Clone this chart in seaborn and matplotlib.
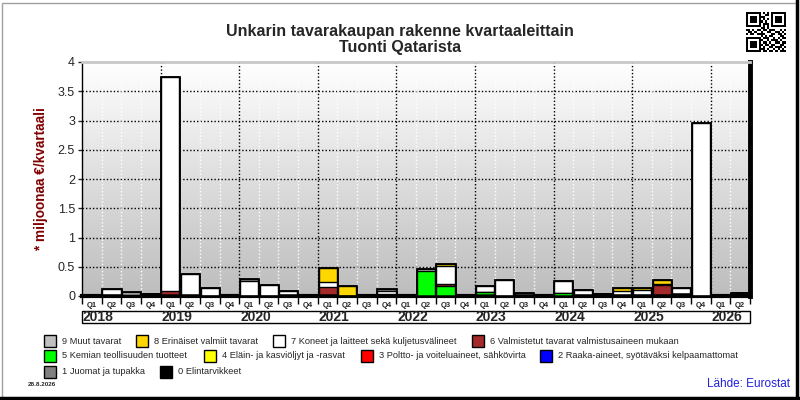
import numpy as np
import pandas as pd
import seaborn as sns
import matplotlib.pyplot as plt
from matplotlib.colors import LinearSegmentedColormap
from matplotlib.patches import Rectangle
from matplotlib.transforms import blended_transform_factory

years = ["2018", "2019", "2020", "2021", "2022", "2023", "2024", "2025", "2026"]
quarters = ["Q1", "Q2", "Q3", "Q4"] * 8 + ["Q1", "Q2"]

# tuonti Qatarista, milj. € / kvartaali, 2018Q1 ... 2026Q2
g0 = [0, 0.01, 0, 0.03, 0.02, 0.01, 0, 0, 0, 0, 0.01, 0.02,
      0.01, 0, 0.02, 0.01, 0.02, 0, 0, 0, 0.01, 0, 0.01, 0,
      0, 0.02, 0.03, 0.01, 0.01, 0.01, 0.04, 0, 0, 0.05]
g1 = [0.0] * 34
g2 = [0.0] * 34
g3 = [0.0] * 34
g4 = [0.0] * 34
g5 = [0, 0, 0, 0, 0, 0, 0, 0, 0, 0, 0, 0,
      0, 0, 0, 0, 0, 0.43, 0.17, 0, 0.06, 0, 0, 0,
      0.05, 0, 0, 0, 0, 0, 0, 0, 0, 0]
g6 = [0, 0, 0, 0, 0.06, 0, 0, 0, 0, 0, 0, 0,
      0.14, 0, 0, 0.03, 0, 0, 0.03, 0, 0, 0, 0, 0,
      0, 0, 0, 0, 0, 0.18, 0, 0, 0, 0]
g7 = [0, 0.11, 0.015, 0, 3.67, 0.37, 0.13, 0, 0.26, 0.18, 0.07, 0,
      0.09, 0, 0, 0.05, 0, 0.04, 0.32, 0, 0.10, 0.28, 0.04, 0,
      0.20, 0.08, 0, 0.08, 0.09, 0.01, 0.09, 2.95, 0, 0]
g8 = [0, 0, 0, 0, 0, 0, 0, 0, 0, 0, 0, 0,
      0.24, 0.17, 0, 0, 0, 0, 0.03, 0, 0, 0, 0, 0,
      0, 0, 0, 0.05, 0.04, 0.07, 0, 0, 0, 0]
g9 = [0, 0, 0.055, 0, 0, 0, 0, 0, 0.03, 0, 0, 0,
      0, 0, 0, 0.03, 0, 0, 0, 0, 0, 0, 0, 0,
      0, 0, 0, 0, 0, 0, 0, 0, 0, 0]

labels = ["0 Elintarvikkeet", "1 Juomat ja tupakka",
          "2 Raaka-aineet, syötäväksi kelpaamattomat",
          "3 Poltto- ja voiteluaineet, sähkövirta",
          "4 Eläin- ja kasviöljyt ja -rasvat", "5 Kemian teollisuuden tuotteet",
          "6 Valmistetut tavarat valmistusaineen mukaan",
          "7 Koneet ja laitteet sekä kuljetusvälineet",
          "8 Erinäiset valmiit tavarat", "9 Muut tavarat"]
colors = ["#000000", "#808080", "#0000FF", "#FF0000", "#FFFF00",
          "#00FF00", "#A52A2A", "#FFFFFF", "#FFD700", "#C0C0C0"]

sns.set_style("white")
plt.rcParams['font.family'] = ['Liberation Sans', 'DejaVu Sans']

n = len(quarters)
df = pd.DataFrame({"idx": np.arange(n)})
vals = np.array([g0, g1, g2, g3, g4, g5, g6, g7, g8, g9])
cum = np.cumsum(vals, axis=0)
for k in range(10):
    df["c%d" % k] = cum[k]

fig = plt.figure(figsize=(8, 4), dpi=100)
ax = fig.add_axes([0.1025, 0.26, 0.835, 0.585])

# kokonaissumma paksummalla reunalla, sitten pinot ylimmästä alkaen
sns.barplot(data=df, x="idx", y="c9", color=colors[9], saturation=1,
            edgecolor="black", linewidth=2, width=0.92, ax=ax, zorder=3)
for k in range(9, -1, -1):
    sns.barplot(data=df, x="idx", y="c%d" % k, color=colors[k], saturation=1,
                edgecolor="black", linewidth=1, width=0.92, ax=ax, zorder=3)

ax.set_xlim(-0.5, n - 0.5)
ax.set_ylim(0, 4)

# taustan liukuväri
grad = LinearSegmentedColormap.from_list("bg", ["#FFFFFF", "#BDBDBD"])
ax.imshow(np.linspace(0, 1, 256).reshape(-1, 1), cmap=grad, aspect="auto",
          extent=[-0.5, n - 0.5, 0, 4], zorder=0)

for yv in np.arange(0.5, 4, 0.5):
    ax.axhline(yv, color="black", linestyle=(0, (1, 1.5)), linewidth=1, zorder=1)
for i in range(1, n):
    if i % 4 == 0:
        ax.axvline(i - 0.5, color="black", linestyle=(0, (1, 1.5)), linewidth=1, zorder=1)
    else:
        ax.axvline(i - 0.5, color="white", linestyle=(0, (1, 1.5)), linewidth=1, zorder=1)

ax.set_xlabel("")
ax.set_ylabel("* miljoonaa €/kvartaali", color="#800000", fontsize=9.8,
              fontweight="bold")
ax.yaxis.set_label_coords(-0.051, 0.5)
ax.set_yticks(np.arange(0, 4.01, 0.5))
ax.set_yticklabels(["0", "0.5", "1", "1.5", "2", "2.5", "3", "3.5", "4"])
ax.tick_params(axis="y", labelsize=9, length=3, width=1, direction="out",
               left=True, pad=2)
ax.set_xticks(np.arange(n))
ax.set_xticklabels(quarters, fontsize=5.5, fontweight="bold")
ax.set_xticks(np.arange(n + 1) - 0.5, minor=True)
ax.tick_params(axis="x", which="major", length=0, pad=4)
ax.tick_params(axis="x", which="minor", length=6, width=1, color="black",
               direction="out", bottom=True)

for side in ["left", "bottom", "right", "top"]:
    ax.spines[side].set_visible(True)
ax.spines["left"].set_color("black")
ax.spines["left"].set_linewidth(1)
ax.spines["bottom"].set_color("black")
ax.spines["bottom"].set_linewidth(3)
ax.spines["right"].set_color("black")
ax.spines["right"].set_linewidth(3.5)
ax.spines["top"].set_color("#C8C8C8")
ax.spines["top"].set_linewidth(2)

# vuosirivi
trans = blended_transform_factory(ax.transData, ax.transAxes)
ax.add_patch(Rectangle((-0.5, -0.115), n, 0.052, transform=trans,
                       facecolor="white", edgecolor="black", linewidth=1,
                       clip_on=False))
for j, yr in enumerate(years):
    ax.text(4 * j - 0.45, -0.09, yr, transform=trans, fontsize=10,
            fontweight="bold", ha="left", va="center")

fig.text(0.5, 0.922, "Unkarin tavarakaupan rakenne kvartaaleittain",
         ha="center", va="center", fontsize=11.5, fontweight="bold")
fig.text(0.5, 0.882, "Tuonti Qatarista", ha="center", va="center",
         fontsize=11.5, fontweight="bold")

# selite
legend_pos = [(9, 44, 341), (8, 136, 341), (7, 273, 341), (6, 472, 341),
              (5, 44, 356), (4, 204, 356), (3, 361, 356), (2, 540, 356),
              (1, 44, 372), (0, 160, 372)]
for k, px, py in legend_pos:
    fig.patches.append(Rectangle((px / 800, 1 - (py + 6) / 400), 12 / 800, 12 / 400,
                                 transform=fig.transFigure, facecolor=colors[k],
                                 edgecolor="black", linewidth=1))
    fig.text((px + 18) / 800, 1 - py / 400, labels[k], fontsize=6.7,
             ha="left", va="center")

fig.text(28 / 800, 1 - 385 / 400, "28.8.2026", fontsize=4.5, fontweight="bold",
         ha="left", va="center")
fig.text(790 / 800, 1 - 384 / 400, "Lähde: Eurostat", fontsize=8.5,
         color="#2020E0", ha="right", va="center")

# QR-merkki
qr = ["1111111010101111111",
      "1000001001101000001",
      "1011101110001011101",
      "1011101010101011101",
      "1011101101001011101",
      "1000001011101000001",
      "1111111010101111111",
      "0000000110100000000",
      "1101011011011100101",
      "0110100100110011010",
      "1011011110001101101",
      "0000000101011000110",
      "1111111011100101011",
      "1000001100101110100",
      "1011101011010011011",
      "1011101101101100110",
      "1011101010011011101",
      "1000001110100101010",
      "1111111011011010111"]
qr_arr = np.array([[int(c) for c in row] for row in qr])
qax = fig.add_axes([746 / 800, 1 - 52 / 400, 40 / 800, 40 / 400])
qax.imshow(qr_arr, cmap="Greys", interpolation="nearest", vmin=0, vmax=1)
qax.axis("off")

# kehys
fig.patches.append(Rectangle((2 / 800, 2 / 400), 795 / 800, 395 / 400,
                             transform=fig.transFigure, fill=False,
                             edgecolor="#A0A0A0", linewidth=1))
fig.add_artist(plt.Line2D([797 / 800, 797 / 800], [0, 1], color="black",
                          linewidth=2.5, transform=fig.transFigure))
fig.add_artist(plt.Line2D([0, 1], [2 / 400, 2 / 400], color="black",
                          linewidth=2.5, transform=fig.transFigure))

fig.savefig("out.png", dpi=100)
